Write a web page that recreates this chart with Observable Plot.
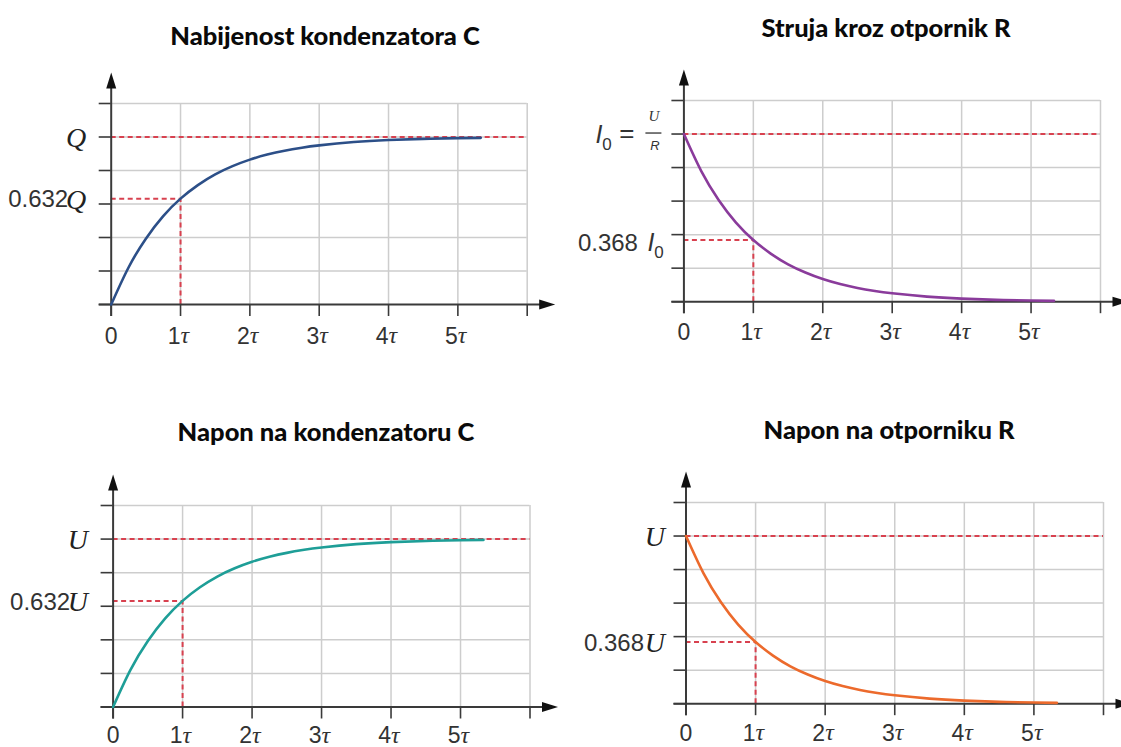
<!DOCTYPE html>
<html>
<head>
<meta charset="utf-8">
<script src="https://cdn.jsdelivr.net/npm/d3@7"></script>
<script src="https://cdn.jsdelivr.net/npm/@observablehq/plot@0.6"></script>
<style>
  html, body { margin: 0; padding: 0; background: #fff; }
  body { width: 1121px; height: 747px; position: relative; overflow: hidden; }
  .panel { position: absolute; }
  .panel svg { overflow: visible; background: transparent; }
  .title { position: absolute; font-family: Lato, "Open Sans", sans-serif; font-weight: 900; font-size: 25.5px;
           line-height: 26px; white-space: nowrap; transform: translateX(-50%); color: #0a0a0a; }
</style>
</head>
<body>
<script>
// ---------- data ----------
const titles = ["Nabijenost kondenzatora C", "Struja kroz otpornik R", "Napon na kondenzatoru C", "Napon na otporniku R"];
// time in units of tau
const tauPts = [0, 0.25, 0.5, 0.75, 1, 1.25, 1.5, 1.75, 2, 2.25, 2.5, 2.75, 3, 3.5, 4, 4.5, 5, 5.33];
// values as fraction of the final / initial value
const chargeQ  = [0, 0.221, 0.393, 0.528, 0.632, 0.713, 0.777, 0.826, 0.865, 0.895, 0.918, 0.936, 0.950, 0.970, 0.982, 0.989, 0.993, 0.995];
const currentI = [1, 0.779, 0.607, 0.472, 0.368, 0.287, 0.223, 0.174, 0.135, 0.105, 0.082, 0.064, 0.050, 0.030, 0.018, 0.011, 0.007, 0.005];
const chargeU  = [0, 0.221, 0.393, 0.528, 0.632, 0.713, 0.777, 0.826, 0.865, 0.895, 0.918, 0.936, 0.950, 0.970, 0.982, 0.989, 0.993, 0.995];
const voltR    = [1, 0.779, 0.607, 0.472, 0.368, 0.287, 0.223, 0.174, 0.135, 0.105, 0.082, 0.064, 0.050, 0.030, 0.018, 0.011, 0.007, 0.005];
const markerLevels = [0.632, 0.368, 0.632, 0.368];
const markerCoefs = ["0.632", "0.368", "0.632", "0.368"];
const finalSymbols = ["Q", "I", "U", "U"];
const gridLevels = [0, 0.2, 0.4, 0.6, 0.8, 1, 1.2];
const tauTicks = [0, 1, 2, 3, 4, 5, 6];
const tauLabelNums = ["0", "1", "2", "3", "4", "5"];
const curveColors = ["#2c4f88", "#8a3b9b", "#1e9e97", "#ec6a2c"];

// ---------- layout (page pixels) ----------
const layout = [
  {left: 0,   x0: 110.7, x6: 526.7, y0: 304.3, yTop: 103.3, tx: 325, ty: 22, ldy: 32},
  {left: 560, x0: 683.4, x6: 1100,  y0: 300.7, yTop: 99.5,  tx: 886, ty: 14, ldy: 31},
  {left: 0,   x0: 112.6, x6: 529.5, y0: 706.7, yTop: 505.2, tx: 326, ty: 418, ldy: 29},
  {left: 560, x0: 685.5, x6: 1103,  y0: 702.7, yTop: 501.5, tx: 889, ty: 416, ldy: 30}
];
const series = [chargeQ, currentI, chargeU, voltR];

const RED = "#d8414f";
const GRID = "#cdcdcd";
const AXIS = "#3a3a3a";
const sans = "Liberation Sans, Arial, sans-serif";
const serif = "Liberation Serif, Times New Roman, serif";

const arrowHead = { draw(ctx) { ctx.moveTo(8, 0); ctx.lineTo(-8, -5); ctx.lineTo(-8, 5); ctx.closePath(); } };

function yLabelMarks(i, m, pxPerTau) {
  const sym = finalSymbols[i];
  const coef = markerCoefs[i];
  const marks = [];
  if (i === 1) {
    // I0 = U/R
    marks.push(Plot.text([1], {x: 0, y: d => d, text: () => "I", dx: -85, dy: 1, fontFamily: sans, fontStyle: "italic", fontSize: 25, fill: "#333"}));
    marks.push(Plot.text([1], {x: 0, y: d => d, text: () => "0", dx: -77, dy: 11, fontFamily: sans, fontSize: 17, fill: "#333"}));
    marks.push(Plot.text([1], {x: 0, y: d => d, text: () => "=", dx: -57, dy: 0, fontFamily: sans, fontSize: 26, fill: "#333"}));
    marks.push(Plot.text([1], {x: 0, y: d => d, text: () => "U", dx: -30, dy: -13, lineAnchor: "bottom", fontFamily: serif, fontStyle: "italic", fontSize: 15, fill: "#333"}));
    marks.push(Plot.ruleY([1], {x1: -38 / pxPerTau, x2: -22 / pxPerTau, dy: -1, stroke: "#333", strokeWidth: 1.3}));
    marks.push(Plot.text([1], {x: 0, y: d => d, text: () => "R", dx: -29, dy: 7, lineAnchor: "top", fontFamily: sans, fontStyle: "italic", fontSize: 13, fill: "#333"}));
    // 0.368 I0
    marks.push(Plot.text([m], {x: 0, y: d => d, text: () => coef, dx: -46, dy: 3, textAnchor: "end", fontFamily: sans, fontSize: 24, fill: "#333"}));
    marks.push(Plot.text([m], {x: 0, y: d => d, text: () => "I", dx: -33, dy: 3, fontFamily: sans, fontStyle: "italic", fontSize: 25, fill: "#333"}));
    marks.push(Plot.text([m], {x: 0, y: d => d, text: () => "0", dx: -25, dy: 13, fontFamily: sans, fontSize: 17, fill: "#333"}));
  } else {
    const symEnd = i === 3 ? -21 : -25;
    const coefEnd = i === 3 ? -42 : -43;
    marks.push(Plot.text([1], {x: 0, y: d => d, text: () => sym, dx: symEnd, dy: 1, textAnchor: "end", fontFamily: serif, fontStyle: "italic", fontSize: 28, fill: "#222"}));
    marks.push(Plot.text([m], {x: 0, y: d => d, text: () => sym, dx: symEnd, dy: 1, textAnchor: "end", fontFamily: serif, fontStyle: "italic", fontSize: 28, fill: "#222"}));
    marks.push(Plot.text([m], {x: 0, y: d => d, text: () => coef, dx: coefEnd, dy: 1, textAnchor: "end", fontFamily: sans, fontSize: 24, fill: "#333"}));
  }
  return marks;
}

function makePanel(i) {
  const L = layout[i];
  const width = 561;
  const mL = L.x0 - L.left;
  const mR = width - mL - (L.x6 - L.x0);
  const mT = 40, mB = 50;
  const height = mT + (L.y0 - L.yTop) + mB;
  const top = L.yTop - mT;
  const xMax = tauTicks[tauTicks.length - 1];
  const yMax = gridLevels[gridLevels.length - 1];
  const pxPerTau = (L.x6 - L.x0) / xMax;
  const pxPerUnit = (L.y0 - L.yTop) / yMax;
  const xTickLen = 12 / pxPerTau;     // left extension of y ticks / axis
  const yTickLen = 12 / pxPerUnit;    // downward extension of x ticks
  const xArrowTip = xMax + 28 / pxPerTau;
  const yArrowTip = yMax + 31 / pxPerUnit;
  const m = markerLevels[i];
  const data = tauPts.map((t, k) => ({t, v: series[i][k]}));

  const chart = Plot.plot({
    width, height,
    marginLeft: mL, marginRight: mR, marginTop: mT, marginBottom: mB,
    x: {domain: [0, xMax], axis: null},
    y: {domain: [0, yMax], axis: null},
    style: {background: "transparent", overflow: "visible"},
    marks: [
      // grid
      Plot.ruleY(gridLevels.slice(1), {x1: 0, x2: xMax, stroke: GRID, strokeWidth: 1.5}),
      Plot.ruleX(tauTicks.slice(1), {y1: 0, y2: yMax, stroke: GRID, strokeWidth: 1.5}),
      // dashed guides
      Plot.ruleY([1], {x1: 0, x2: xMax, stroke: RED, strokeWidth: 2, strokeDasharray: "5,3.5"}),
      Plot.ruleY([m], {x1: 0, x2: 1, stroke: RED, strokeWidth: 2, strokeDasharray: "5,3.5"}),
      Plot.ruleX([1], {y1: 0, y2: m, stroke: RED, strokeWidth: 2, strokeDasharray: "5,3.5"}),
      // ticks
      Plot.ruleY(gridLevels, {x1: -xTickLen, x2: 0, stroke: AXIS, strokeWidth: 1.6}),
      Plot.ruleX(tauTicks, {y1: -yTickLen, y2: 0, stroke: AXIS, strokeWidth: 1.6}),
      // axes
      Plot.ruleY([0], {x1: -xTickLen, x2: xArrowTip - 14 / pxPerTau, stroke: AXIS, strokeWidth: 2}),
      Plot.ruleX([0], {y1: -yTickLen, y2: yArrowTip - 14 / pxPerUnit, stroke: AXIS, strokeWidth: 2}),
      Plot.dot([xArrowTip - 8 / pxPerTau], {x: d => d, y: () => 0, symbol: arrowHead, r: 5, fill: "#111", stroke: "none"}),
      Plot.dot([yArrowTip - 8 / pxPerUnit], {x: () => 0, y: d => d, symbol: arrowHead, rotate: -90, r: 5, fill: "#111", stroke: "none"}),
      // curve
      Plot.line(data, {x: "t", y: "v", stroke: curveColors[i], strokeWidth: 2.6, curve: "natural"}),
      // x labels
      Plot.text(tauTicks.slice(0, 1), {x: d => d, y: () => 0, text: d => tauLabelNums[d], dy: L.ldy,
        textAnchor: "middle", fontFamily: sans, fontSize: 23, fill: "#333"}),
      Plot.text(tauTicks.slice(1, 6), {x: d => d, y: () => 0, text: d => tauLabelNums[d], dy: L.ldy, dx: 0,
        textAnchor: "end", fontFamily: sans, fontSize: 23, fill: "#333"}),
      Plot.text(tauTicks.slice(1, 6), {x: d => d, y: () => 0, text: () => "\u03c4", dy: L.ldy - 1, dx: 0,
        textAnchor: "start", fontFamily: serif, fontStyle: "italic", fontSize: 24, fill: "#333"}),
      ...yLabelMarks(i, m, pxPerTau)
    ]
  });
  const wrap = document.createElement("div");
  wrap.className = "panel";
  wrap.style.left = L.left + "px";
  wrap.style.top = top + "px";
  wrap.appendChild(chart);
  document.body.appendChild(wrap);

  const t = document.createElement("div");
  t.className = "title";
  t.textContent = titles[i];
  t.style.left = L.tx + "px";
  t.style.top = L.ty + "px";
  document.body.appendChild(t);
}

for (let i = 0; i < 4; i++) makePanel(i);
</script>
</body>
</html>
